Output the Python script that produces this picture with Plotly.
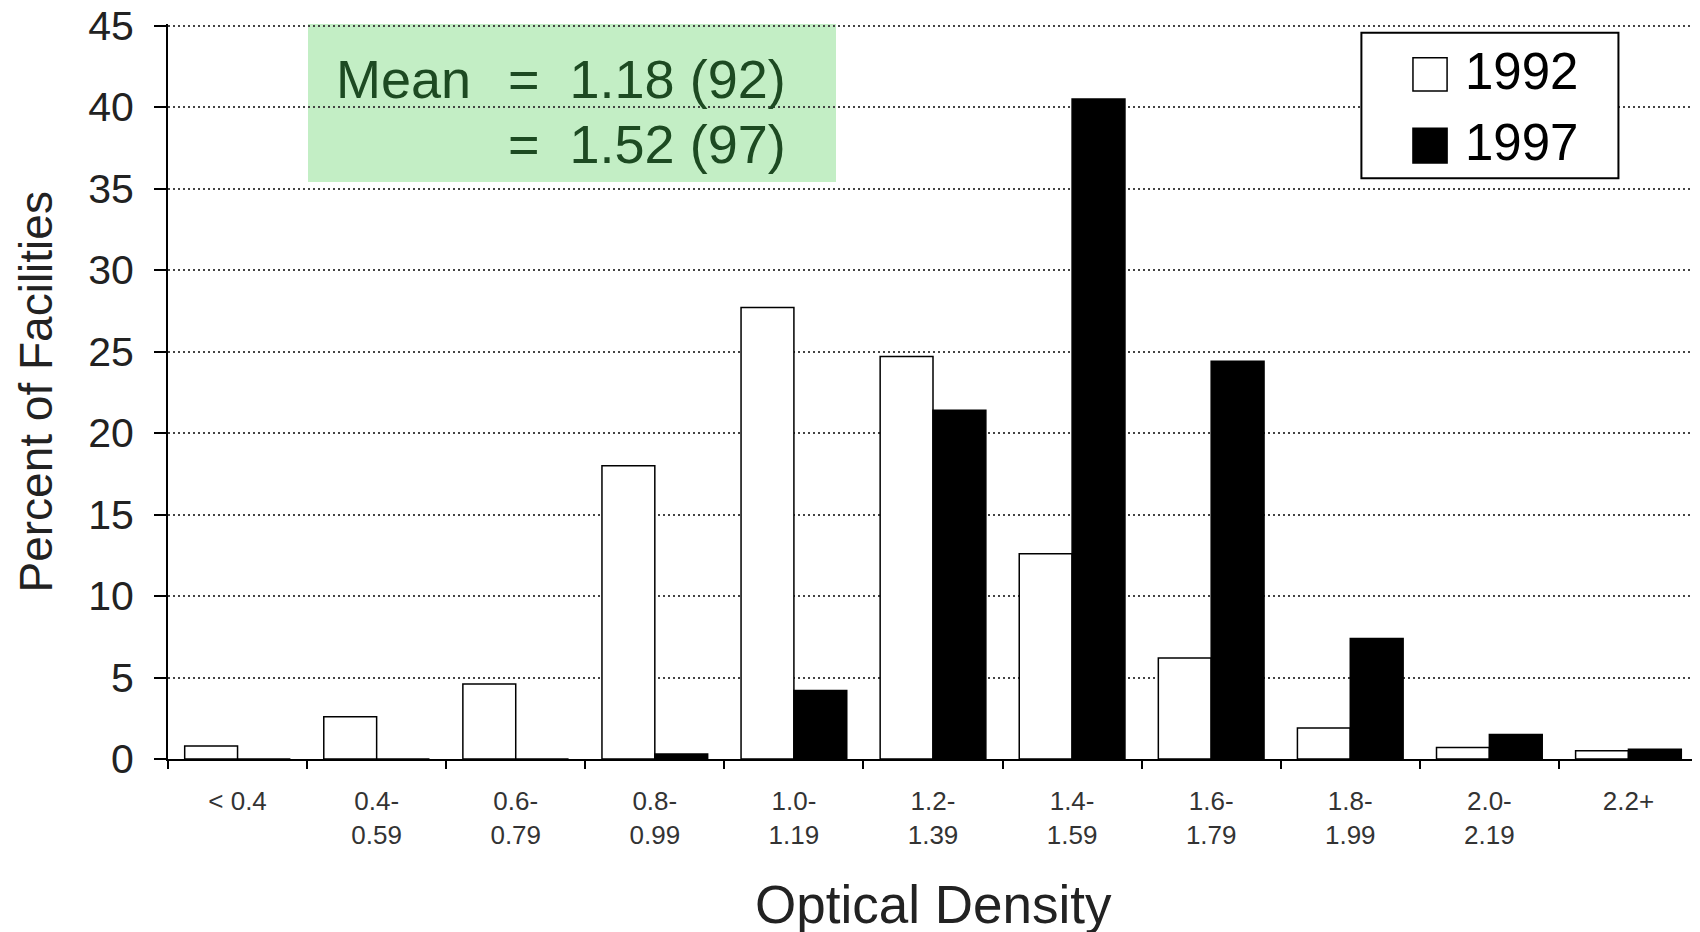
import plotly.graph_objects as go

categories = ["< 0.4", "0.4-<br>0.59", "0.6-<br>0.79", "0.8-<br>0.99", "1.0-<br>1.19",
              "1.2-<br>1.39", "1.4-<br>1.59", "1.6-<br>1.79", "1.8-<br>1.99", "2.0-<br>2.19", "2.2+"]
pct_1992 = [0.8, 2.6, 4.6, 18.0, 27.7, 24.7, 12.6, 6.2, 1.9, 0.7, 0.5]
pct_1997 = [0.0, 0.0, 0.0, 0.3, 4.2, 21.4, 40.5, 24.4, 7.4, 1.5, 0.6]
y_ticks = [0, 5, 10, 15, 20, 25, 30, 35, 40, 45]

FONT = "Liberation Sans, Arial, sans-serif"
NB = "\u00a0"

fig = go.Figure()
fig.add_trace(go.Bar(
    x=categories, y=pct_1992, name="1992",
    marker=dict(color="white", line=dict(color="black", width=1.5)),
))
fig.add_trace(go.Bar(
    x=categories, y=pct_1997, name="1997",
    marker=dict(color="black", line=dict(color="black", width=1.5)),
))

# page has an 8px body margin, so margins are shifted to compensate
fig.update_layout(
    width=1700, height=932,
    margin=dict(l=160, r=10, t=16, b=181, autoexpand=False),
    paper_bgcolor="white", plot_bgcolor="white",
    font=dict(family=FONT, color="#222"),
    barmode="group", bargap=0.24, bargroupgap=0,
    showlegend=False,
)

fig.update_yaxes(
    range=[0, 45.1], tickvals=y_ticks, tickfont=dict(size=41, color="#222"),
    showline=True, linecolor="black", linewidth=2,
    ticks="outside", ticklen=12, tickwidth=2, tickcolor="black", ticklabelstandoff=12,
    ticklabeloverflow="allow", automargin=False,
    showgrid=True, gridcolor="#444", griddash="2px,3px", gridwidth=1.5,
    zeroline=False,
)
fig.update_xaxes(
    type="category", tickfont=dict(size=26, color="#333"),
    showline=True, linecolor="black", linewidth=2,
    ticks="outside", tickson="boundaries", ticklen=8, tickwidth=1.5, tickcolor="black",
    ticklabelstandoff=18, automargin=False,
    showgrid=False,
)

# axis titles
fig.add_annotation(xref="paper", yref="paper", x=-0.0863, y=0.5, text="Percent of Facilities",
                   textangle=-90, showarrow=False, xanchor="center", yanchor="middle",
                   font=dict(size=46, color="#222", family=FONT))
fig.add_annotation(xref="paper", yref="paper", x=0.5, y=-0.1986, text="Optical Density",
                   showarrow=False, xanchor="center", yanchor="middle",
                   font=dict(size=53, color="#222", family=FONT))

# green mean box
fig.add_shape(type="rect", xref="paper", yref="paper", x0=0.0915, x1=0.4366, y0=0.785, y1=1.0,
              fillcolor="#c3eec5", line=dict(width=0), layer="below")
green_txt = dict(size=54, color="#1d4a22", family=FONT)
fig.add_annotation(xref="paper", yref="paper", x=0.1085, y=0.925, text="Mean",
                   showarrow=False, xanchor="left", yanchor="middle", font=green_txt)
fig.add_annotation(xref="paper", yref="paper", x=0.221, y=0.925, text="=" + NB * 2 + "1.18 (92)",
                   showarrow=False, xanchor="left", yanchor="middle", font=green_txt)
fig.add_annotation(xref="paper", yref="paper", x=0.221, y=0.837, text="=" + NB * 2 + "1.52 (97)",
                   showarrow=False, xanchor="left", yanchor="middle", font=green_txt)

# legend box
fig.add_shape(type="rect", xref="paper", yref="paper", x0=0.780, x1=0.948, y0=0.790, y1=0.988,
              fillcolor="white", line=dict(color="black", width=2), layer="above")
fig.add_shape(type="rect", xref="paper", yref="paper", x0=0.8137, x1=0.836, y0=0.909, y1=0.954,
              fillcolor="white", line=dict(color="black", width=1.5), layer="above")
fig.add_shape(type="rect", xref="paper", yref="paper", x0=0.8137, x1=0.836, y0=0.811, y1=0.858,
              fillcolor="black", line=dict(color="black", width=1.5), layer="above")
leg_txt = dict(size=51, color="black", family=FONT)
fig.add_annotation(xref="paper", yref="paper", x=0.8464, y=0.935, text="1992",
                   showarrow=False, xanchor="left", yanchor="middle", font=leg_txt)
fig.add_annotation(xref="paper", yref="paper", x=0.8464, y=0.839, text="1997",
                   showarrow=False, xanchor="left", yanchor="middle", font=leg_txt)

fig.write_html("out.html")
